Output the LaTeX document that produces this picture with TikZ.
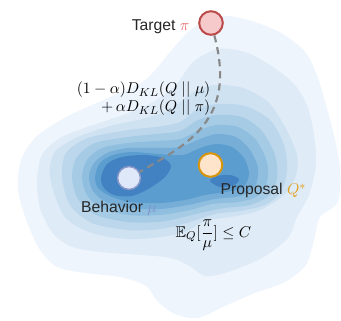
\documentclass[tikz,border=0pt]{standalone}
\usepackage{amsmath,amssymb}
\usepackage{fontspec}
\setsansfont{Liberation Sans}
\usetikzlibrary{positioning}

% density levels, light to dark
\definecolor{lvA}{HTML}{EEF5FC}
\definecolor{lvB}{HTML}{DFEBF7}
\definecolor{lvC}{HTML}{CFE2F2}
\definecolor{lvD}{HTML}{BCD7EC}
\definecolor{lvE}{HTML}{A6CBE5}
\definecolor{lvF}{HTML}{8FBEDF}
\definecolor{lvG}{HTML}{76AED8}
\definecolor{lvH}{HTML}{5C9DD0}
\definecolor{lvI}{HTML}{4282C3}
% markers
\definecolor{tgtfill}{HTML}{F6C9CA}
\definecolor{tgtline}{HTML}{BC4B4B}
\definecolor{tgtpi}{HTML}{E86A6A}
\definecolor{behfill}{HTML}{DEE8F9}
\definecolor{behline}{HTML}{8C98C8}
\definecolor{behmu}{HTML}{7D93CB}
\definecolor{propfill}{HTML}{FFE4CC}
\definecolor{propline}{HTML}{D8960E}
\definecolor{propq}{HTML}{E1A11E}
\definecolor{klpath}{HTML}{888888}

\begin{document}
\begin{tikzpicture}[x=0.7pt, y=-0.7pt,
    dot/.style={circle, minimum size=16.5pt, inner sep=0pt, line width=1.4pt},
    lbl/.style={font=\sffamily\fontsize{11}{13}\selectfont, text=black!85, inner sep=1pt},
    eqn/.style={font=\fontsize{11}{12.5}\selectfont, inner sep=1pt}]

    \useasboundingbox (0,0) rectangle (341,321);

    % Density contours
    \fill[lvA] plot[smooth cycle] coordinates {(170,52) (186,34) (205,20) (228,16) (255,22) (283,34) (306,53) (318,78) (326,105) (334,135) (340,168) (338,202) (320,217) (314,240) (306,265) (285,282) (255,293) (225,306) (198,318) (175,314) (158,302) (146,286) (120,277) (85,273) (57,267) (40,250) (27,222) (18,190) (21,160) (37,136) (70,115) (108,98) (145,80)};
    \fill[lvB] plot[smooth cycle] coordinates {(37,180) (42,155) (60,138) (90,126) (120,116) (150,104) (175,86) (193,62) (218,49) (245,52) (270,65) (293,83) (307,105) (314,135) (316,165) (309,195) (297,217) (288,238) (262,258) (228,272) (205,276) (188,265) (165,257) (100,252) (70,246) (52,232) (40,208)};
    \fill[lvC] plot[smooth cycle] coordinates {(50,177) (55,152) (78,137) (110,126) (142,119) (170,110) (192,93) (215,85) (243,88) (268,102) (285,127) (297,155) (296,175) (287,192) (273,203) (255,212) (230,217) (205,221) (185,232) (160,237) (128,239) (92,233) (64,216)};
    \fill[lvD] plot[smooth cycle] coordinates {(62,177) (66,153) (88,138) (128,130) (155,127) (180,122) (198,109) (218,104) (245,106) (270,120) (284,145) (287,170) (281,192) (265,205) (240,211) (215,214) (190,222) (160,229) (128,230) (92,223) (70,205)};
    \fill[lvE] plot[smooth cycle] coordinates {(72,177) (77,157) (95,143) (128,137) (155,134) (180,131) (198,120) (217,115) (242,117) (262,131) (275,155) (277,178) (270,195) (250,205) (225,208) (200,213) (180,218) (158,222) (128,222) (96,215) (78,199)};
    \fill[lvF] plot[smooth cycle] coordinates {(82,177) (87,160) (102,148) (128,143) (155,141) (180,139) (200,130) (217,125) (238,127) (256,140) (267,162) (267,182) (258,196) (238,202) (212,204) (190,210) (160,215) (128,215) (101,208) (87,195)};
    \fill[lvG] plot[smooth cycle] coordinates {(89,177) (94,163) (107,153) (128,148) (155,148) (180,147) (200,139) (217,134) (236,137) (250,150) (258,168) (255,186) (240,196) (215,199) (188,205) (160,209) (128,208) (106,202) (93,191)};
    \fill[lvH] plot[smooth cycle] coordinates {(95,177) (100,163) (113,155) (132,152) (158,154) (183,155) (200,148) (216,144) (232,147) (244,158) (249,174) (243,187) (226,192) (205,195) (185,200) (160,203) (130,202) (110,196) (98,188)};
    \fill[lvI] plot[smooth cycle] coordinates {(101,178) (107,164) (122,157) (145,155) (163,158) (171,166) (165,177) (150,188) (132,196) (114,195) (104,188)};
    \fill[lvI] plot[smooth cycle] coordinates {(210,181) (217,176) (230,175) (239,179) (234,185) (220,187)};

    % Distributions
    \node (target) [dot, draw=tgtline, fill=tgtfill] at (211,23) {};
    \node (behavior) [dot, draw=behline, fill=behfill, line width=1pt, minimum size=16pt] at (129,178) {};
    \node (proposal) [dot, draw=propline, fill=propfill] at (210.5,165) {};

    % Labels
    \node (targetlbl) [lbl, anchor=base east] at (191,30) {Target \textcolor{tgtpi}{$\pi$}};
    \node (behaviorlbl) [lbl, anchor=base] at (119,213) {Behavior \textcolor{behmu}{$\mu$}};
    \node (proposallbl) [lbl, anchor=base west] at (219,195) {Proposal \textcolor{propq}{$Q^{*}$}};
    \node (objective) [eqn, anchor=east, align=right] at (212,99) {$(1-\alpha)D_{KL}(Q \mid\mid \mu)$\\ $+\,\alpha D_{KL}(Q \mid\mid \pi)$};
    \node (constraint) [eqn, anchor=base west] at (174,237) {$\mathbb{E}_Q[\dfrac{\pi}{\mu}] \leq C$};

    % Interpolation path
    \draw[klpath, line width=1.5pt, dash pattern=on 5pt off 3.5pt] (target) .. controls +(-75:70pt) and +(30:49pt) .. (behavior);
\end{tikzpicture}
\end{document}
